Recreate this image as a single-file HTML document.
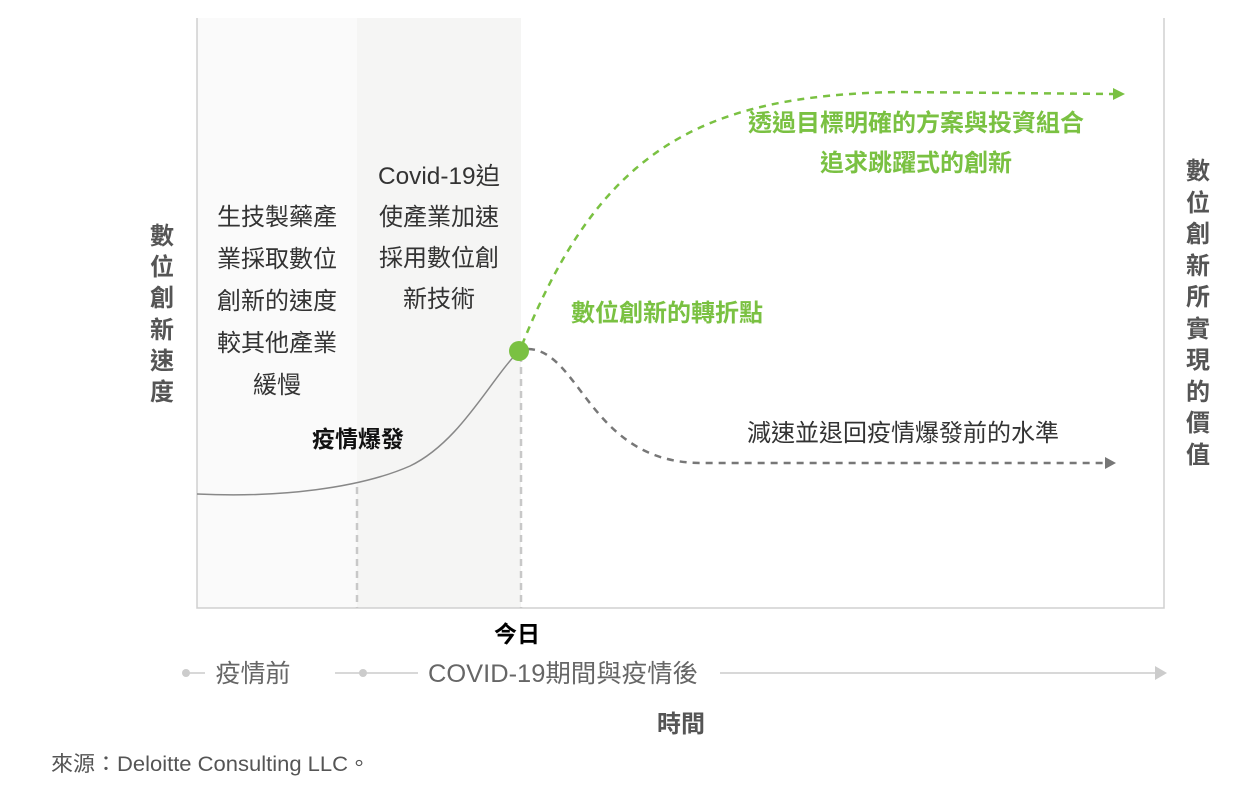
<!DOCTYPE html>
<html><head><meta charset="utf-8"><style>
body{margin:0;background:#fff;}
svg text{font-family:"Liberation Sans","Noto Sans CJK TC",sans-serif;}
</style></head><body>
<svg width="1239" height="781" viewBox="0 0 1239 781" xmlns="http://www.w3.org/2000/svg">
<rect x="197" y="18" width="160" height="590" fill="#fafafa"/>
<rect x="357" y="18" width="164" height="590" fill="#f5f5f4"/>
<path d="M197,18 V608 H1164 V18" fill="none" stroke="#d0d0d0" stroke-width="1.5"/>
<line x1="357" y1="487" x2="357" y2="608" stroke="#c8c8c8" stroke-width="2.5" stroke-dasharray="7,5"/>
<line x1="521" y1="355" x2="521" y2="608" stroke="#c8c8c8" stroke-width="2.5" stroke-dasharray="7,5"/>
<path d="M197,494 C280,498 360,488 410,466 C460,442 490,380 519,351" fill="none" stroke="#888" stroke-width="1.5"/>
<path d="M522,345 C600,150 700,95 900,92 L1115,94" fill="none" stroke="#7ac142" stroke-width="2.5" stroke-dasharray="7,6"/>
<polygon points="1125,94 1113,88 1113,100" fill="#7ac142"/>
<path d="M528,349 C580,350 590,462 700,463 L1105,463" fill="none" stroke="#777" stroke-width="2.5" stroke-dasharray="7,6"/>
<polygon points="1116,463 1105,457 1105,469" fill="#777"/>
<circle cx="519" cy="351" r="10" fill="#7ac142"/>
<g font-size="24" fill="#333" text-anchor="middle">
<text x="277" y="225">生技製藥產</text><text x="277" y="267">業採取數位</text><text x="277" y="309">創新的速度</text><text x="277" y="351">較其他產業</text><text x="277" y="393">緩慢</text>
<text x="439" y="184" textLength="122" lengthAdjust="spacingAndGlyphs">Covid-19迫</text><text x="439" y="225">使產業加速</text><text x="439" y="266">採用數位創</text><text x="439" y="307">新技術</text>
</g>
<text x="358" y="447" font-size="23" font-weight="bold" fill="#111" text-anchor="middle">疫情爆發</text>
<g font-size="24" font-weight="bold" fill="#7ac142" text-anchor="middle">
<text x="916" y="131">透過目標明確的方案與投資組合</text><text x="916" y="171">追求跳躍式的創新</text>
<text x="667" y="321">數位創新的轉折點</text>
</g>
<text x="903" y="441" font-size="24" fill="#333" text-anchor="middle">減速並退回疫情爆發前的水準</text>
<g font-size="24" font-weight="bold" fill="#555" text-anchor="middle">
<text x="162" y="244">數</text><text x="162" y="275">位</text><text x="162" y="306">創</text><text x="162" y="338">新</text><text x="162" y="369">速</text><text x="162" y="400">度</text>
<text x="1198" y="179">數</text><text x="1198" y="211">位</text><text x="1198" y="242">創</text><text x="1198" y="274">新</text><text x="1198" y="305">所</text><text x="1198" y="337">實</text><text x="1198" y="368">現</text><text x="1198" y="400">的</text><text x="1198" y="431">價</text><text x="1198" y="463">值</text>
</g>
<text x="517" y="642" font-size="23" font-weight="bold" fill="#000" text-anchor="middle">今日</text>
<line x1="186" y1="673" x2="205" y2="673" stroke="#ccc" stroke-width="1.5"/>
<circle cx="186" cy="673" r="4" fill="#ccc"/>
<line x1="335" y1="673" x2="418" y2="673" stroke="#ccc" stroke-width="1.5"/>
<circle cx="363" cy="673" r="4" fill="#ccc"/>
<line x1="720" y1="673" x2="1157" y2="673" stroke="#ccc" stroke-width="1.5"/>
<polygon points="1167,673 1155,666 1155,680" fill="#ccc"/>
<text x="253" y="682" font-size="25" fill="#666" text-anchor="middle">疫情前</text>
<text x="563" y="682" font-size="25" fill="#666" text-anchor="middle" textLength="270" lengthAdjust="spacingAndGlyphs">COVID-19期間與疫情後</text>
<text x="681" y="732" font-size="24" font-weight="bold" fill="#555" text-anchor="middle">時間</text>
<text x="51" y="771" font-size="21" fill="#555" textLength="319" lengthAdjust="spacingAndGlyphs">來源：Deloitte Consulting LLC。</text>
</svg>
</body></html>
